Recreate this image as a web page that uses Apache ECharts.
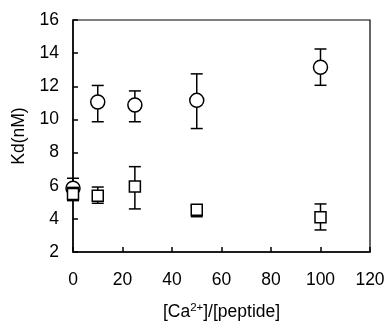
<!DOCTYPE html>
<html>
<head>
<meta charset="utf-8">
<script src="https://cdn.jsdelivr.net/npm/echarts@6/dist/echarts.min.js"></script>
<style>
  html, body { margin: 0; padding: 0; background: #fff; }
  #chart { width: 386px; height: 324px; }
</style>
</head>
<body>
<div id="chart"></div>
<script>
// ratio [Ca2+]/[peptide]
const ratios = [0, 10, 25, 50, 100];

// circles
const circleKd = [5.85, 11.05, 10.87, 11.15, 13.15];
const circleLow = [5.3, 9.86, 9.86, 9.45, 12.06];
const circleHigh = [6.45, 12.05, 11.72, 12.75, 14.25];

// squares
const squareKd = [5.5, 5.4, 5.95, 4.55, 4.1];
const squareLow = [5.1, 4.94, 4.6, 4.13, 3.33];
const squareHigh = [5.9, 5.92, 7.15, 4.8, 4.9];

const yTicks = [2, 4, 6, 8, 10, 12, 14, 16];
const xTicks = [0, 20, 40, 60, 80, 100, 120];

const chart = echarts.init(document.getElementById('chart'));

const pts = (ys) => ratios.map((x, i) => [x, ys[i]]);
const bars = (lo, hi) => ratios.map((x, i) => [x, lo[i], hi[i]]);

function errorBar(params, api) {
  const x = api.value(0);
  const lo = api.coord([x, api.value(1)]);
  const hi = api.coord([x, api.value(2)]);
  const cap = 6;
  const style = { stroke: '#000', lineWidth: 1.5 };
  return {
    type: 'group',
    children: [
      { type: 'line', shape: { x1: lo[0], y1: lo[1], x2: hi[0], y2: hi[1] }, style },
      { type: 'line', shape: { x1: lo[0] - cap, y1: lo[1], x2: lo[0] + cap, y2: lo[1] }, style },
      { type: 'line', shape: { x1: hi[0] - cap, y1: hi[1], x2: hi[0] + cap, y2: hi[1] }, style },
    ],
  };
}

const font = 'Liberation Sans, Arial, sans-serif';
const markStyle = { color: '#fff', borderColor: '#000', borderWidth: 1.5, opacity: 1 };

chart.setOption({
  animation: false,
  grid: {
    left: 73, right: 16, top: 20, bottom: 72,
    outerBoundsMode: 'none',
    show: true, borderColor: '#000', borderWidth: 1.2,
  },
  xAxis: {
    type: 'value',
    min: 0, max: 120, interval: 20,
    name: '[Ca{sup|2+}]/[peptide]',
    nameLocation: 'middle',
    nameGap: 50,
    nameTextStyle: {
      color: '#000', fontSize: 17.5, fontFamily: font,
      rich: { sup: { fontSize: 11.5, verticalAlign: 'top', padding: [0, 0, 8, 0], color: '#000', fontFamily: font } },
    },
    axisLine: { lineStyle: { color: '#000', width: 1.5 } },
    axisTick: { inside: true, length: 5, lineStyle: { color: '#000', width: 1.5 } },
    axisLabel: {
      color: '#000', fontSize: 17.5, fontFamily: font, margin: 19,
      formatter: (v) => (xTicks.includes(v) ? String(v) : ''),
    },
    splitLine: { show: false },
  },
  yAxis: {
    type: 'value',
    min: 2, max: 16, interval: 2,
    name: 'Kd(nM)',
    nameLocation: 'middle',
    nameGap: 45,
    nameTextStyle: { color: '#000', fontSize: 17.5, fontFamily: font },
    axisLine: { lineStyle: { color: '#000', width: 1.5 } },
    axisTick: { inside: true, length: 5, lineStyle: { color: '#000', width: 1.5 } },
    axisLabel: {
      color: '#000', fontSize: 17.5, fontFamily: font, margin: 14,
      formatter: (v) => (yTicks.includes(v) ? String(v) : ''),
    },
    splitLine: { show: false },
  },
  series: [
    {
      type: 'custom',
      renderItem: errorBar,
      data: bars(circleLow, circleHigh),
      clip: false,
      z: 1,
    },
    {
      type: 'scatter',
      data: pts(circleKd),
      symbol: 'circle',
      symbolSize: 14,
      itemStyle: markStyle,
      clip: false,
      z: 2,
    },
    {
      type: 'custom',
      renderItem: errorBar,
      data: bars(squareLow, squareHigh),
      clip: false,
      z: 3,
    },
    {
      type: 'scatter',
      data: pts(squareKd),
      symbol: 'rect',
      symbolSize: 11,
      itemStyle: markStyle,
      clip: false,
      z: 4,
    },
  ],
});
</script>
</body>
</html>
